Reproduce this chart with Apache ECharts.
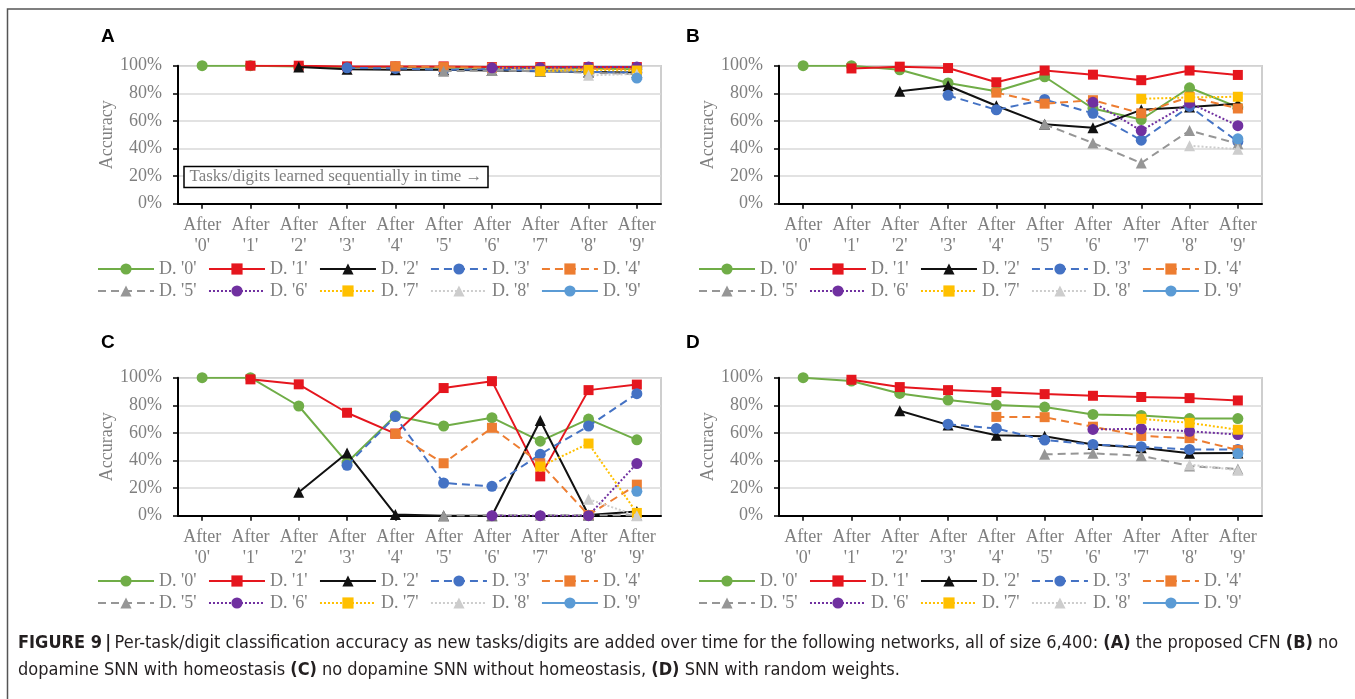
<!DOCTYPE html>
<html><head><meta charset="utf-8">
<script src="https://cdn.jsdelivr.net/npm/echarts@6/dist/echarts.min.js"></script>
<style>html,body{margin:0;padding:0;background:#fff}#c{width:1355px;height:699px}</style>
</head><body><div id="c"></div>
<script>
const categories = ["After\n'0'","After\n'1'","After\n'2'","After\n'3'","After\n'4'","After\n'5'","After\n'6'","After\n'7'","After\n'8'","After\n'9'"];
const seriesNames = ["D. '0'","D. '1'","D. '2'","D. '3'","D. '4'","D. '5'","D. '6'","D. '7'","D. '8'","D. '9'"];
const yTicks = [0, 20, 40, 60, 80, 100];
const panelLetters = ["A", "B", "C", "D"];
const n = null;

// Panel A: the proposed CFN
const panelA = [
  [100, 100, 99.5, 99, 99, 98.5, 98.5, 98, 98, 97.5],
  [n, 100, 100, 99.5, 99.5, 99.5, 99, 99, 99, 99],
  [n, n, 99, 97.5, 97, 97, 96.5, 96, 95.5, 95],
  [n, n, n, 98.5, 98, 97, 97.5, 96, 95.5, 95],
  [n, n, n, n, 99.5, 99, 98.5, 98, 98, 97.5],
  [n, n, n, n, n, 96, 96.5, 96, 95, 94],
  [n, n, n, n, n, n, 98.5, 98.5, 99, 99],
  [n, n, n, n, n, n, n, 96, 97, 96.5],
  [n, n, n, n, n, n, n, n, 93, 94],
  [n, n, n, n, n, n, n, n, n, 91]
];
// Panel B: no dopamine SNN with homeostasis
const panelB = [
  [100, 100, 97, 87.5, 81.5, 92, 69, 61, 84, 70],
  [n, 98, 99.3, 98.3, 88, 96.5, 93.5, 89.5, 96.5, 93.3],
  [n, n, 81.5, 85.5, 71, 57.5, 55, 68, 70, 72.5],
  [n, n, n, 78.5, 68, 75.5, 65.5, 46, 70.5, 45],
  [n, n, n, n, 80.5, 72.5, 75, 65.5, 77.5, 69],
  [n, n, n, n, n, 57.5, 44, 29.5, 53, 43.5],
  [n, n, n, n, n, n, 73.5, 53, 73, 56.5],
  [n, n, n, n, n, n, n, 76, 77, 77.5],
  [n, n, n, n, n, n, n, n, 42, 39.5],
  [n, n, n, n, n, n, n, n, n, 47]
];
// Panel C: no dopamine SNN without homeostasis
const panelC = [
  [100, 100, 79.5, 38.5, 72.5, 65, 71, 54, 70, 55],
  [n, 98.8, 95.2, 74.6, 59.5, 92.5, 97.5, 28.5, 91, 95],
  [n, n, 17, 45.5, 0.8, 0, 0, 69, 0.5, 3],
  [n, n, n, 36.5, 71.8, 23.7, 21.3, 44.5, 65, 88.4],
  [n, n, n, n, 59.3, 38, 63.7, 38, 0.5, 22.5],
  [n, n, n, n, n, 0, 0.3, 0.3, 0.3, 0.3],
  [n, n, n, n, n, n, 0, 0, 0, 37.8],
  [n, n, n, n, n, n, n, 35.6, 52.3, 2],
  [n, n, n, n, n, n, n, n, 12, 0],
  [n, n, n, n, n, n, n, n, n, 17.7]
];
// Panel D: SNN with random weights
const panelD = [
  [100, 97.6, 88.6, 83.8, 80.2, 78.7, 73.4, 72.6, 70.4, 70.4],
  [n, 98.5, 93.2, 91, 89.6, 88.1, 86.9, 86, 85.2, 83.5],
  [n, n, 76, 65.8, 58.3, 57.5, 51.6, 49.3, 45.2, 45.5],
  [n, n, n, 66.3, 63.2, 54.8, 51.6, 50, 48, 48],
  [n, n, n, n, 71.6, 71.4, 64.5, 57.8, 56.2, 47.5],
  [n, n, n, n, n, 44.5, 45.2, 43.5, 36, 33.8],
  [n, n, n, n, n, n, 62.5, 63, 61.2, 58.8],
  [n, n, n, n, n, n, n, 70.2, 67.3, 62.3],
  [n, n, n, n, n, n, n, n, 37, 33],
  [n, n, n, n, n, n, n, n, n, 45]
];
const panels = [panelA, panelB, panelC, panelD];

const styles = [
  {color:'#70AD47', type:'solid', symbol:'circle', size:11},
  {color:'#E5161E', type:'solid', symbol:'rect', size:10},
  {color:'#111111', type:'solid', symbol:'triangle', size:11},
  {color:'#4472C4', type:[8,5], symbol:'circle', size:11},
  {color:'#ED7D31', type:[8,5], symbol:'rect', size:10},
  {color:'#969696', type:[8,5], symbol:'triangle', size:11},
  {color:'#7030A0', type:[2,2], symbol:'circle', size:11},
  {color:'#FFC000', type:[2,2], symbol:'rect', size:10},
  {color:'#CDCDCD', type:[2,2], symbol:'triangle', size:11},
  {color:'#5B9BD5', type:'solid', symbol:'circle', size:11}
];

const serif = '"Liberation Serif","Times New Roman",serif';
const capFont = '"Liberation Sans Narrow","DejaVu Sans Condensed",sans-serif';
const gray = '#7f7f7f';
const W = 483, H = 138;
const gridPos = [[178, 65.7], [779, 65.7], [178, 377.7], [779, 377.7]];
const legendPos = [[97, 260], [698, 260], [97, 572], [698, 572]];

const grids = [], xAxes = [], yAxes = [], series = [], legends = [];
gridPos.forEach((g, p) => {
  grids.push({left:g[0], top:g[1], width:W, height:H, show:true, borderColor:'#bfbfbf', borderWidth:1.5, backgroundColor:'transparent', containLabel:false});
  xAxes.push({type:'category', gridIndex:p, data:categories, boundaryGap:true,
    axisLine:{show:true, lineStyle:{color:'#000', width:2}},
    axisTick:{show:true, alignWithLabel:true, length:5, lineStyle:{color:'#000', width:1.5}},
    axisLabel:{interval:0, margin:11, fontFamily:serif, fontSize:18, color:gray, lineHeight:21},
    splitLine:{show:false}});
  yAxes.push({type:'value', gridIndex:p, min:yTicks[0], max:yTicks[yTicks.length-1], interval:20,
    name:'Accuracy', nameLocation:'middle', nameGap:56, nameRotate:90,
    nameTextStyle:{fontFamily:serif, fontSize:18, color:gray},
    axisLine:{show:true, lineStyle:{color:'#000', width:2}},
    axisTick:{show:true, length:5, lineStyle:{color:'#000', width:1.5}},
    axisLabel:{formatter:'{value}%', margin:16, fontFamily:serif, fontSize:18, color:gray},
    splitLine:{show:true, lineStyle:{color:'#d9d9d9', width:1.5}}});
  panels[p].forEach((vals, k) => {
    const s = styles[k];
    series.push({type:'line', name:seriesNames[k], xAxisIndex:p, yAxisIndex:p, data:vals,
      symbol:s.symbol, symbolSize:s.size, showSymbol:true, connectNulls:false,
      lineStyle:{color:s.color, width:2, type:s.type},
      itemStyle:{color:s.color, borderWidth:0}, animation:false, z:2+k*0.01});
  });
  const lp = legendPos[p];
  [0, 1].forEach(r => {
    legends.push({left:lp[0], top:lp[1] + r*22, orient:'horizontal', itemWidth:56, itemHeight:14, itemGap:11.5,
      data:seriesNames.slice(r*5, r*5+5), padding:0,
      textStyle:{fontFamily:serif, fontSize:18, color:gray}, selectedMode:false});
  });
});

const titleXY = [[101, 27], [686, 27], [101, 333], [686, 333]];
const graphics = [
  {type:'rect', shape:{x:7.5, y:9, width:1400, height:720}, style:{fill:'none', stroke:'#555', lineWidth:1.5}, silent:true},
  {type:'rect', shape:{x:184, y:166.5, width:304, height:21}, style:{fill:'#fff', stroke:'#000', lineWidth:1.5}, z:50},
  {type:'text', x:336, y:177, z:51, style:{text:'Tasks/digits learned sequentially in time \u2192', font:'16.9px ' + serif, fill:gray, align:'center', verticalAlign:'middle'}},
  {type:'text', left:18, top:634, style:{
    text:'{b|FIGURE 9} {b||} {r|Per-task/digit classification accuracy as new tasks/digits are added over time for the following networks, all of size 6,400: }{b|(A)}{r| the proposed CFN }{b|(B)}{r| no}\n{r|dopamine SNN with homeostasis }{b|(C)}{r| no dopamine SNN without homeostasis, }{b|(D)}{r| SNN with random weights.}',
    rich:{
      b:{fontFamily:capFont, fontWeight:'bold', fontSize:18, fill:'#231f20', lineHeight:27},
      r:{fontFamily:capFont, fontSize:18, fill:'#231f20', lineHeight:27}
    }}}
];
titleXY.forEach((t, i) => graphics.push({type:'text', left:t[0], top:t[1], style:{text:panelLetters[i], font:'bold 19px "Liberation Sans",Arial,sans-serif', fill:'#000'}}));

const chart = echarts.init(document.getElementById('c'), null, {renderer:'canvas'});
chart.setOption({
  animation:false, backgroundColor:'#fff',
  grid:grids, xAxis:xAxes, yAxis:yAxes, series:series, legend:legends, graphic:graphics
});
</script></body></html>
